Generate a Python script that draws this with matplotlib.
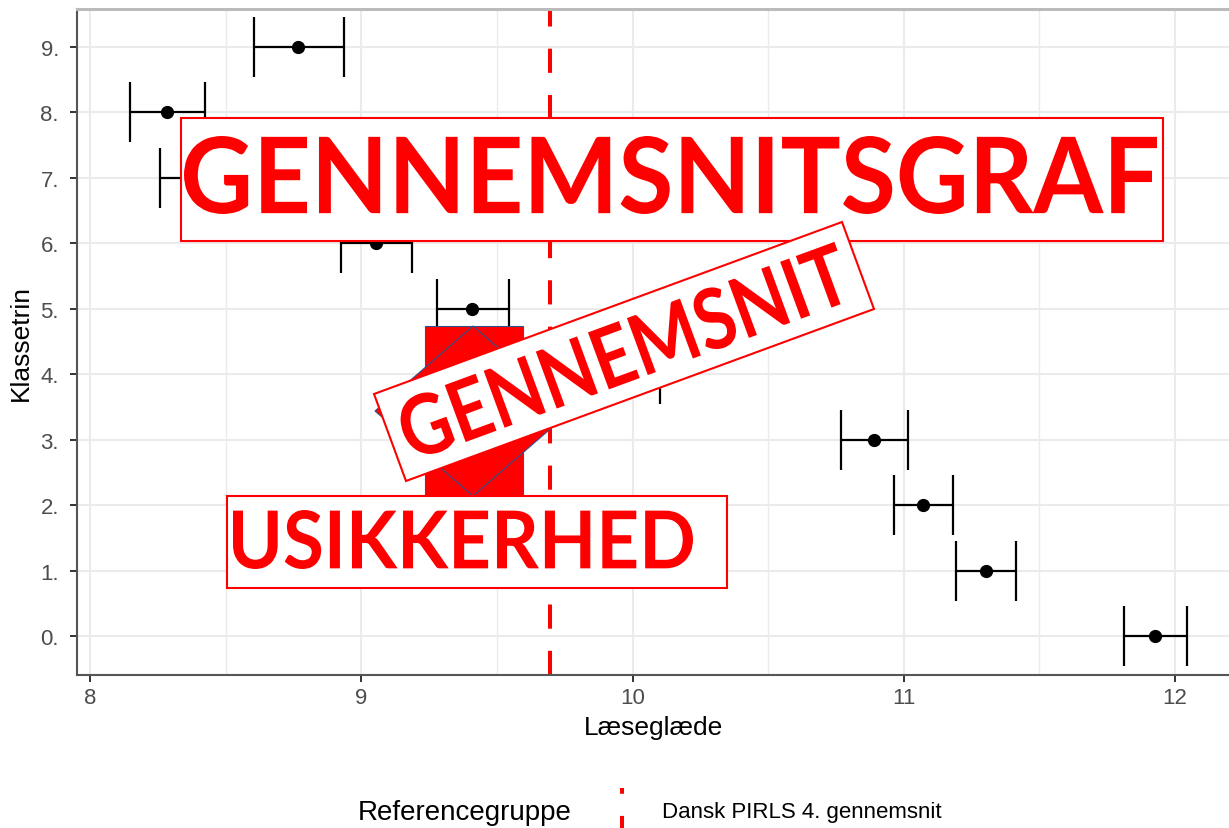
import numpy as np
import matplotlib
matplotlib.use("Agg")
import matplotlib.pyplot as plt
from matplotlib.patches import Rectangle, Polygon, PathPatch
from matplotlib.textpath import TextPath
from matplotlib.font_manager import FontProperties
from matplotlib.transforms import Affine2D
from matplotlib.lines import Line2D

# data
klassetrin = np.arange(10)
ytick_labels = ["0.", "1.", "2.", "3.", "4.", "5.", "6.", "7.", "8.", "9."]
mean = np.array([11.926, 11.303, 11.070, 10.889, 9.965, 9.410, 9.055, 8.395, 8.284, 8.768])
lower = np.array([11.812, 11.192, 10.963, 10.768, 9.830, 9.280, 8.926, 8.258, 8.148, 8.605])
upper = np.array([12.044, 11.413, 11.181, 11.015, 10.100, 9.546, 9.188, 8.530, 8.424, 8.937])
ref_mean = 9.694
ref_label = "Dansk PIRLS 4. gennemsnit"

W, H = 1229, 829
RED = "#ff0000"
plt.rcParams["font.family"] = ["Liberation Sans", "DejaVu Sans"]

fig = plt.figure(figsize=(W / 100, H / 100), dpi=100)
ax = fig.add_axes([77 / W, (H - 676) / H, (1231 - 77) / W, (676 - 10) / H])

# grid like ggplot theme_bw
ax.set_axisbelow(True)
ax.set_xticks([8, 9, 10, 11, 12])
ax.set_xticks([8.5, 9.5, 10.5, 11.5], minor=True)
ax.set_yticks(klassetrin)
ax.set_yticklabels(ytick_labels)
ax.grid(True, which="major", color="#ebebeb", lw=1.5)
ax.grid(True, which="minor", axis="x", color="#ebebeb", lw=1.0)
ax.tick_params(which="minor", length=0)
ax.tick_params(which="major", length=5, width=1.4, color="#333333",
               labelcolor="#4d4d4d", labelsize=16)
ax.tick_params(axis="y", pad=8)
ax.tick_params(axis="x", pad=4)

for side in ["left", "bottom"]:
    ax.spines[side].set_color("#555555")
    ax.spines[side].set_linewidth(1.5)
ax.spines["top"].set_color("#bbbbbb")
ax.spines["top"].set_linewidth(2.2)
ax.spines["right"].set_visible(False)

ax.axvline(ref_mean, color=RED, lw=2.9, linestyle=(0, (6, 5.5)), zorder=1)
ax.errorbar(mean, klassetrin, xerr=[mean - lower, upper - mean], fmt="o",
            color="black", ms=8.5, elinewidth=1.6, capsize=21.6, capthick=1.6,
            zorder=3)

ax.set_xlim(7.952, 12.2065)
ax.set_ylim(-0.596, 9.581)
ax.set_xlabel("Læseglæde", fontsize=19, labelpad=5, color="black")
ax.set_ylabel("Klassetrin", fontsize=19, labelpad=5, color="black")

# legend at the bottom, built by hand
fig.text(358 / W, 1 - 813 / H, "Referencegruppe", fontsize=20, va="center", ha="left")
fig.text(662 / W, 1 - 813 / H, ref_label, fontsize=16, va="center", ha="left")

# overlay in pixel coordinates (y down)
ov = fig.add_axes([0, 0, 1, 1], zorder=10)
ov.set_xlim(0, W)
ov.set_ylim(H, 0)
ov.axis("off")
ov.patch.set_visible(False)

# legend key: dashed vertical line, cut by the bottom edge
ov.add_line(Line2D([622, 622], [829, 789], color=RED, lw=2.9,
                   linestyle=(3.0, (6, 5.5))))

prop = FontProperties(family=["Lato", "DejaVu Sans"], weight="bold")


def fitted_text(s, x0, x1, y0, y1, base=None, z=5):
    tp = TextPath((0, 0), s, size=100, prop=prop)
    ext = tp.get_extents()
    tr = (Affine2D().translate(-ext.x0, -ext.y0)
          .scale((x1 - x0) / ext.width, -(y1 - y0) / ext.height)
          .translate(x0, y1))
    path = tr.transform_path(tp)
    t = ov.transData if base is None else base + ov.transData
    ov.add_patch(PathPatch(path, facecolor=RED, lw=0, transform=t, zorder=z))


# red arrow
ov.add_patch(Rectangle((425, 327), 98, 178, facecolor=RED, edgecolor="#2f528f",
                       lw=0.8, zorder=2))
ov.add_patch(Polygon([[375, 412], [473, 327], [571, 412], [473, 497]], closed=True,
                     facecolor=RED, edgecolor="#2f528f", lw=0.8, zorder=3))

# big title box
ov.add_patch(Rectangle((181, 119), 1163 - 181, 242 - 119, facecolor="white",
                       edgecolor=RED, lw=1.5, zorder=4))
fitted_text("GENNEMSNITSGRAF", 184, 1157, 137, 215, z=5)

# rotated box
L, Hb = 498.6, 92.7
rot = Affine2D().rotate_deg(-20.18).translate(624, 352.5)
ov.add_patch(Rectangle((-L / 2, -Hb / 2), L, Hb, facecolor="white", edgecolor=RED,
                       lw=1.5, transform=rot + ov.transData, zorder=6))
fitted_text("GENNEMSNIT", -L / 2 + 14, L / 2 - 14, -31, 31, base=rot, z=7)

# usikkerhed box
ov.add_patch(Rectangle((227, 497), 727 - 227, 589 - 497, facecolor="white",
                       edgecolor=RED, lw=1.5, zorder=6))
fitted_text("USIKKERHED", 233, 693, 511, 570, z=7)

fig.savefig("out.png", dpi=100)
